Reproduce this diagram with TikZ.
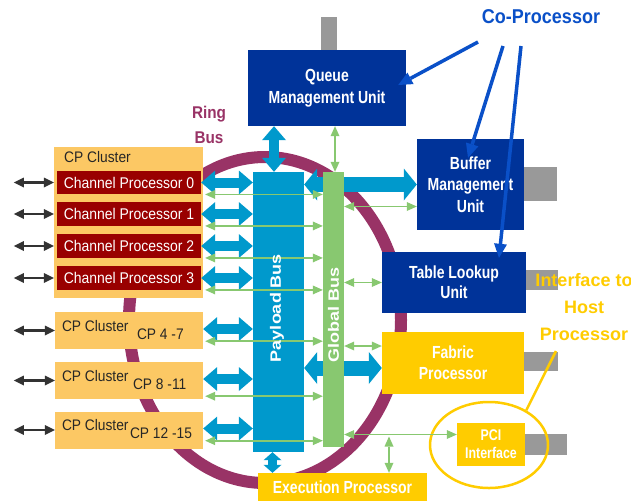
\documentclass[tikz,border=0pt]{standalone}
\usepackage{fontspec}
\setmainfont{Liberation Sans}
\newfontfamily\narfont[FakeStretch=0.8]{Liberation Sans}
\newfontfamily\chfont[FakeStretch=0.9]{Liberation Sans}
\newfontfamily\busfont[FakeStretch=1.2]{Liberation Sans}
\usetikzlibrary{arrows.meta,shapes.geometric,calc}
\definecolor{pblue}{RGB}{0,153,204}
\definecolor{gbus}{RGB}{136,200,112}
\definecolor{dblue}{RGB}{0,51,153}
\definecolor{yel}{RGB}{255,204,0}
\definecolor{cpor}{RGB}{252,200,100}
\definecolor{dred}{RGB}{153,0,0}
\definecolor{gtab}{RGB}{153,153,153}
\definecolor{ringc}{RGB}{153,51,102}
\definecolor{cblue}{RGB}{10,80,200}
\begin{document}
\begin{tikzpicture}[x=1pt,y=-1pt,
  unit/.style={fill=dblue, text=white, font=\narfont\bfseries\fontsize{17.5}{21.5}\selectfont, align=center, inner sep=0pt},
  yunit/.style={fill=yel, text=white, font=\narfont\bfseries\fontsize{17.5}{21}\selectfont, align=center, inner sep=0pt},
  tab/.style={fill=gtab, inner sep=0pt},
  chp/.style={fill=dred, text=white, font=\chfont\fontsize{15.5}{16}\selectfont, inner sep=0pt, minimum width=144pt, minimum height=23.5pt},
  clus/.style={fill=cpor, inner sep=0pt, minimum width=148pt, minimum height=37pt},
  cltext/.style={text=black!85, font=\chfont\fontsize{15.3}{16}\selectfont, inner sep=0pt, anchor=west},
  bustext/.style={text=white, font=\busfont\bfseries\fontsize{15}{18}\selectfont, rotate=90, inner sep=0pt},
  fatarrow/.style={draw=pblue, line width=10pt, {Triangle[width=24pt,length=14pt,line width=0pt]}-{Triangle[width=24pt,length=14pt,line width=0pt]}},
  smallfat/.style={draw=pblue, line width=9pt, {Triangle[width=18pt,length=8pt,line width=0pt]}-{Triangle[width=18pt,length=8pt,line width=0pt]}},
  bigarrow/.style={draw=pblue, line width=15pt, {Triangle[width=32pt,length=13pt,line width=0pt]}-{Triangle[width=32pt,length=13pt,line width=0pt]}},
  garrow/.style={draw=gbus, line width=1.8pt, {Triangle[width=9pt,length=10pt,line width=0pt]}-{Triangle[width=9pt,length=10pt,line width=0pt]}},
  karrow/.style={draw=black!80, line width=2.2pt, {Triangle[width=10pt,length=10pt,line width=0pt]}-{Triangle[width=10pt,length=10pt,line width=0pt]}},
  coarrow/.style={draw=cblue, line width=3.5pt, -{Triangle[width=13pt,length=14pt,line width=0pt]}}
]
\fill[white] (0,0) rectangle (631,501);
\useasboundingbox (0,0) rectangle (631,501);

% ring bus
\draw[ringc, line width=12pt] (265,320) ellipse [x radius=136, y radius=163];

% anchor boxes (redrawn later)
\path (278.5,312) node[inner sep=0pt, minimum width=51pt, minimum height=280pt] (pay) {};
\path (470.5,184.5) node[inner sep=0pt, minimum width=107pt, minimum height=91pt] (bmu) {};
\path (453,363) node[inner sep=0pt, minimum width=142pt, minimum height=62pt] (fab) {};

% wide blue arrows passing behind the global bus
\draw[bigarrow] (pay.east |- bmu.west) -- (bmu.west);
\coordinate (fabin) at ($(fab.west)+(0,5)$);
\draw[bigarrow] (pay.east |- fabin) -- (fabin);

% buses
\node[fill=pblue, inner sep=0pt, minimum width=51pt, minimum height=280pt] (payb) at (pay) {};
\node[fill=gbus, inner sep=0pt, minimum width=21pt, minimum height=275pt] (glob) at (333.5,309.5) {};

% units
\node[tab, minimum width=16pt, minimum height=33pt] (qtab) at (329,33.5) {};
\node[unit, minimum width=158pt, minimum height=76pt] (qmu) at (327,88) {Queue\\Management Unit};
\node[tab, minimum width=33pt, minimum height=34pt] (btab) at (540.5,184) {};
\node[unit, minimum width=107pt, minimum height=91pt] (bmub) at (bmu) {Buffer\\Management\\Unit};
\node[tab, minimum width=32pt, minimum height=20pt] (ttab) at (542,280) {};
\node[unit, font=\narfont\bfseries\fontsize{17.5}{20}\selectfont, minimum width=144pt, minimum height=61pt] (tlu) at (454,282.5) {Table Lookup\\Unit};
\node[tab, minimum width=34pt, minimum height=19pt] (ftab) at (541,361.5) {};
\node[yunit, minimum width=142pt, minimum height=62pt] (fabb) at (fab) {Fabric\\Processor};
\node[tab, minimum width=42pt, minimum height=21pt] (ptab) at (546,444.5) {};
\node[yunit, font=\narfont\bfseries\fontsize{15.5}{18}\selectfont, minimum width=68pt, minimum height=43pt] (pci) at (491,444.5) {PCI\\Interface};
\node[draw=yel, line width=2.5pt, ellipse, inner sep=0pt, minimum width=118pt, minimum height=86pt] (pciring) at (489,445) {};
\node[yunit, minimum width=169pt, minimum height=28pt] (exe) at (342.5,487) {Execution Processor};

% CP cluster
\node[fill=cpor, inner sep=0pt, minimum width=149pt, minimum height=151pt] (cpc) at (128.5,222.5) {};
\node[cltext] (cpct) at (64,157) {CP Cluster};
\node[chp] (cp0) at (129,182.5) {Channel Processor 0};
\node[chp] (cp1) at (129,214) {Channel Processor 1};
\node[chp] (cp2) at (129,246) {Channel Processor 2};
\node[chp] (cp3) at (129,278) {Channel Processor 3};

\node[clus] (cl1) at (129,330.5) {};
\node[clus] (cl2) at (129,380.5) {};
\node[clus] (cl3) at (129,430) {};
\node[cltext] (cl1a) at ($(cl1.west)+(7,-4)$) {CP Cluster};
\node[cltext] (cl1b) at ($(cl1.west)+(82,4)$) {CP 4 -7};
\node[cltext] (cl2a) at ($(cl2.west)+(7,-4)$) {CP Cluster};
\node[cltext] (cl2b) at ($(cl2.west)+(78,3.5)$) {CP 8 -11};
\node[cltext] (cl3a) at ($(cl3.west)+(7,-5)$) {CP Cluster};
\node[cltext] (cl3b) at ($(cl3.west)+(75,3)$) {CP 12 -15};

% external black arrows
\foreach \n in {cp0,cp1,cp2,cp3}{
  \draw[karrow] (cpc.west |- \n.west) -- ++(-40,0);
}
\foreach \n in {cl1,cl2,cl3}{
  \draw[karrow] (\n.west) -- ++(-41,0);
}

% blue arrows CP -> payload bus
\foreach \n in {cp0,cp1,cp2,cp3}{
  \draw[fatarrow] (\n.east) -- (\n.east -| pay.west);
}
\foreach \n in {cl1,cl2,cl3}{
  \draw[fatarrow] ($(\n.east)+(0,-1.5)$) -- ($(\n.east -| pay.west)+(0,-1.5)$);
}

% green arrows CP -> global bus
\foreach \n in {cp0,cp1,cp2,cp3}{
  \draw[garrow] ($(\n.south east)+(4,0)$) -- (\n.south east -| glob.west);
}
\draw[garrow] ($(cl1.south east)+(2,-8)$) -- ($(cl1.south east -| glob.west)+(0,-8)$);
\draw[garrow] ($(cl2.south east)+(2,-3)$) -- ($(cl2.south east -| glob.west)+(0,-3)$);
\draw[garrow] ($(cl3.south east)+(2,-8)$) -- ($(cl3.south east -| glob.west)+(0,-8)$);

% bus labels
\node[bustext] (paylbl) at (277,308) {Payload Bus};
\node[bustext] (globlbl) at (333.5,315) {Global Bus};

% QMU connections
\coordinate (pq) at ($(pay.north)+(-4.5,0)$);
\draw[fatarrow] (pq) -- (pq |- qmu.south);
\coordinate (gq) at ($(glob.north)+(1.5,0)$);
\draw[garrow] (gq) -- (gq |- qmu.south);

% global bus -> units
\coordinate (bmug) at ($(bmu.west)+(0,22)$);
\draw[garrow] (glob.east |- bmug) -- (bmug);
\draw[garrow] (glob.east |- tlu.west) -- (tlu.west);
\coordinate (fabg) at ($(fab.west)+(0,-17)$);
\draw[garrow] (glob.east |- fabg) -- (fabg);
\coordinate (pcig) at ($(pci.west)+(0,-10)$);
\draw[garrow] (glob.east |- pcig) -- (pcig);
\coordinate (exetop) at ($(exe.north)+(46.5,0)$);
\draw[garrow] ($(exetop |- pcig)+(0,2)$) -- (exetop);

% payload -> execution
\coordinate (pe) at ($(pay.south)+(-6,0)$);
\draw[smallfat] (pe) -- (pe |- exe.north);

% labels
\node[text=ringc, font=\chfont\bfseries\fontsize{17}{25}\selectfont, align=center, inner sep=0pt] (ringlbl) at (209,125) {Ring\\Bus};
\node[text=cblue, font=\chfont\bfseries\fontsize{20}{22}\selectfont, inner sep=0pt] (copro) at (541,17) {Co-Processor};
\coordinate (ca) at (478,42);
\coordinate (cb) at (503,46);
\coordinate (cc) at (521,46);
\draw[coarrow] (ca) -- ($(qmu.east)+(-8,-3)$);
\draw[coarrow] (cb) -- ($(bmu.north)+(-2.5,19)$);
\draw[coarrow] (cc) -- ($(tlu.north)+(45,6)$);

\node[text=yel, font=\bfseries\fontsize{18}{27}\selectfont, align=center, inner sep=0pt] (hostlbl) at (584,307) {Interface to\\Host\\Processor};
\coordinate (hl) at (556,351);
\draw[yel, line width=2.5pt] (pciring.43) -- (hl);
\end{tikzpicture}
\end{document}
